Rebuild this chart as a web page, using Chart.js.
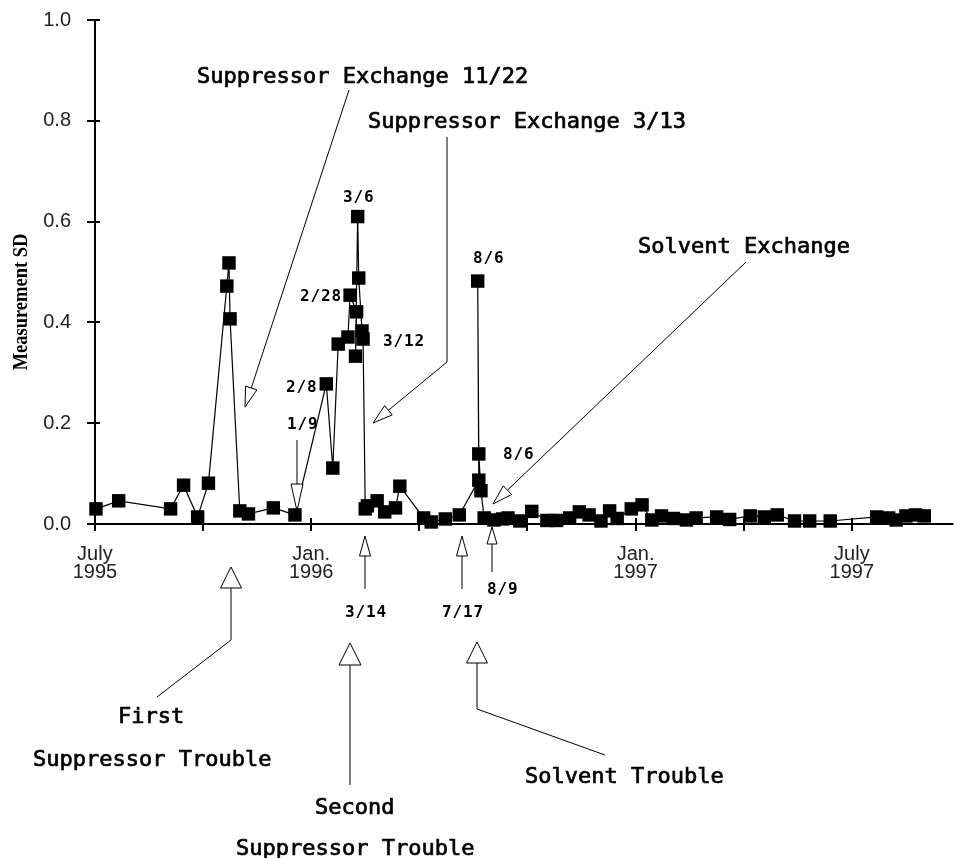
<!DOCTYPE html>
<html><head><meta charset="utf-8">
<script src="https://cdn.jsdelivr.net/npm/chart.js@4/dist/chart.umd.min.js"></script>
<style>html,body{margin:0;padding:0;background:#fff}#wrap{width:963px;height:858px;position:relative}</style>
</head><body><div id="wrap"><canvas id="c"></canvas></div>
<script>
// x position of each measurement, in axis-tick units (tick 0 = July 1995, tick 2 = Jan. 1996, tick 5 = Jan. 1997, tick 7 = July 1997)
const xPositions = [
  0.01, 0.22, 0.70, 0.82, 0.95, 1.05, 1.22, 1.24, 1.25, 1.34, 1.42, 1.65, 1.85,
  2.14, 2.20, 2.25, 2.34, 2.36, 2.42, 2.41, 2.43, 2.44, 2.47, 2.48,
  2.50, 2.52, 2.61, 2.68, 2.78, 2.82, 3.04, 3.11, 3.24, 3.37,
  3.55, 3.54, 3.55, 3.57, 3.60, 3.69, 3.77, 3.82, 3.93, 4.04, 4.18, 4.27,
  4.39, 4.48, 4.57, 4.68, 4.76, 4.83, 4.96, 5.06, 5.15, 5.24, 5.35, 5.47,
  5.56, 5.75, 5.87, 6.06, 6.19, 6.31, 6.47, 6.61, 6.80,
  7.23, 7.34, 7.41, 7.50, 7.59, 7.67
];
// Measurement SD
const sdValues = [
  0.030, 0.046, 0.030, 0.077, 0.014, 0.081, 0.472, 0.518, 0.407, 0.026, 0.020, 0.032, 0.018,
  0.278, 0.111, 0.357, 0.371, 0.454, 0.421, 0.333, 0.610, 0.488, 0.383, 0.367,
  0.030, 0.036, 0.046, 0.024, 0.032, 0.075, 0.012, 0.004, 0.010, 0.018,
  0.087, 0.482, 0.139, 0.066, 0.012, 0.008, 0.010, 0.012, 0.006, 0.025, 0.007, 0.007,
  0.012, 0.024, 0.018, 0.006, 0.026, 0.011, 0.030, 0.038, 0.008, 0.016, 0.011, 0.008,
  0.012, 0.014, 0.009, 0.016, 0.014, 0.018, 0.006, 0.006, 0.006,
  0.014, 0.012, 0.008, 0.016, 0.018, 0.016
];
const xTicks = [0, 1, 2, 3, 4, 5, 6, 7];
const xTickLabels = { 0: ['July', '1995'], 2: ['Jan.', '1996'], 5: ['Jan.', '1997'], 7: ['July', '1997'] };
const yTicks = [0, 0.2, 0.4, 0.6, 0.8, 1.0];
const yTitle = 'Measurement SD';

// annotation texts
const bigNotes = [
  ['Suppressor Exchange 11/22', 197, 83],
  ['Suppressor Exchange 3/13', 368, 128],
  ['Solvent Exchange', 638, 253],
  ['First', 118, 723],
  ['Suppressor Trouble', 33, 766],
  ['Second', 315, 814],
  ['Suppressor Trouble', 236, 855],
  ['Solvent Trouble', 525, 783]
];
const dateNotes = [
  ['3/6', 343, 202], ['2/28', 300, 301], ['3/12', 383, 346], ['2/8', 286, 392], ['1/9', 287, 429],
  ['8/6', 473, 263], ['8/6', 503, 459], ['3/14', 345, 617], ['7/17', 442, 617], ['8/9', 487, 594]
];
// arrows: polyline points, last = tip; head length, head width
const arrows = [
  [[[349, 90], [245, 407]], 20, 12],
  [[[447, 137], [447, 362], [373, 423]], 20, 12],
  [[[746, 262], [493, 504]], 20, 12],
  [[[297, 440], [297, 511]], 27, 12],
  [[[365, 589], [365, 536]], 20, 11],
  [[[462, 589], [462, 536]], 20, 11],
  [[[492, 572], [492, 527]], 17, 10],
  [[[157, 697], [231, 640], [231, 567]], 21, 21],
  [[[350, 785], [350, 643]], 22, 22],
  [[[605, 755], [477, 709], [477, 642]], 21, 21]
];

const axesPlugin = {
  id: 'axesDraw',
  beforeDatasetsDraw(chart) {
    const ctx = chart.ctx, xs = chart.scales.x, ys = chart.scales.y, ca = chart.chartArea;
    const x0 = Math.round(xs.getPixelForValue(0)), yb = Math.round(ys.getPixelForValue(0)), yt = Math.round(ys.getPixelForValue(1));
    ctx.save();
    ctx.strokeStyle = '#000'; ctx.lineWidth = 2;
    ctx.beginPath();
    ctx.moveTo(x0, yt); ctx.lineTo(x0, yb + 6);
    yTicks.forEach(v => { const y = Math.round(ys.getPixelForValue(v)); ctx.moveTo(x0 - 8, y); ctx.lineTo(x0 + 5, y); });
    ctx.moveTo(ca.left, yb); ctx.lineTo(ca.right, yb);
    xTicks.forEach(v => { const x = Math.round(xs.getPixelForValue(v)); ctx.moveTo(x, yb - 6); ctx.lineTo(x, yb + 7); });
    ctx.stroke();
    ctx.restore();
  }
};

const notesPlugin = {
  id: 'notes',
  afterDraw(chart) {
    const ctx = chart.ctx;
    ctx.save();
    // y title
    ctx.save();
    ctx.translate(21, 302);
    ctx.rotate(-Math.PI / 2);
    ctx.scale(0.84, 1);
    ctx.font = 'bold 22px "Liberation Serif", "Times New Roman", serif';
    ctx.fillStyle = '#000'; ctx.textAlign = 'center'; ctx.textBaseline = 'middle';
    ctx.fillText(yTitle, 0, 0);
    ctx.restore();
    // arrows
    ctx.strokeStyle = '#000'; ctx.lineWidth = 1; ctx.fillStyle = '#fff';
    arrows.forEach(([pts, hl, hw]) => {
      const n = pts.length, [tx, ty] = pts[n - 1], [px, py] = pts[n - 2];
      const dx = tx - px, dy = ty - py, L = Math.hypot(dx, dy), ux = dx / L, uy = dy / L;
      const bx = tx - ux * hl, by = ty - uy * hl;
      ctx.beginPath();
      ctx.moveTo(pts[0][0], pts[0][1]);
      for (let i = 1; i < n - 1; i++) ctx.lineTo(pts[i][0], pts[i][1]);
      ctx.lineTo(bx, by);
      ctx.stroke();
      ctx.beginPath();
      ctx.moveTo(tx, ty);
      ctx.lineTo(bx - uy * hw / 2, by + ux * hw / 2);
      ctx.lineTo(bx + uy * hw / 2, by - ux * hw / 2);
      ctx.closePath();
      ctx.fill(); ctx.stroke();
    });
    ctx.fillStyle = '#000'; ctx.strokeStyle = '#000'; ctx.textAlign = 'left'; ctx.textBaseline = 'alphabetic';
    ctx.font = '22px "DejaVu Sans Mono", monospace';
    ctx.lineWidth = 0.7;
    bigNotes.forEach(([t, x, y]) => { ctx.fillText(t, x, y); ctx.strokeText(t, x, y); });
    ctx.font = 'bold 16px "DejaVu Sans Mono", monospace';
    dateNotes.forEach(([t, x, y]) => {
      for (let i = 0; i < t.length; i++) ctx.fillText(t[i], x + i * 10.5, y);
    });
    ctx.restore();
  }
};

new Chart(document.getElementById('c'), {
  type: 'line',
  data: {
    datasets: [{
      data: xPositions.map((x, i) => ({ x, y: sdValues[i] })),
      borderColor: '#000', borderWidth: 1.2, backgroundColor: '#000',
      pointStyle: 'rect', pointRadius: 9.5, pointBackgroundColor: '#000', pointBorderWidth: 0,
      tension: 0, clip: false
    }]
  },
  options: {
    responsive: true, maintainAspectRatio: false, animation: false, devicePixelRatio: 1,
    layout: { padding: { top: 20, right: 0, bottom: 0, left: 0 } },
    plugins: { legend: { display: false }, tooltip: { enabled: false } },
    scales: {
      x: {
        type: 'linear', min: -0.073, max: 7.94,
        afterBuildTicks: s => { s.ticks = xTicks.map(v => ({ value: v })); },
        afterFit: s => { s.height = 334; s.paddingLeft = 0; s.paddingRight = 0; },
        grid: { display: false, drawTicks: false }, border: { display: false },
        ticks: {
          autoSkip: false, maxRotation: 0, padding: 21, color: '#222',
          font: { family: '"Liberation Sans", Arial, sans-serif', size: 20, lineHeight: 0.92 },
          callback: v => xTickLabels[v] || ''
        }
      },
      y: {
        min: 0, max: 1,
        afterBuildTicks: s => { s.ticks = yTicks.map(v => ({ value: v })); },
        afterFit: s => { s.width = 87; s.paddingTop = 0; s.paddingBottom = 0; },
        grid: { display: false, drawTicks: false }, border: { display: false },
        ticks: {
          padding: 16, color: '#222',
          font: { family: '"Liberation Sans", Arial, sans-serif', size: 20 },
          callback: v => v.toFixed(1)
        }
      }
    }
  },
  plugins: [axesPlugin, notesPlugin]
});
</script>
</body></html>
